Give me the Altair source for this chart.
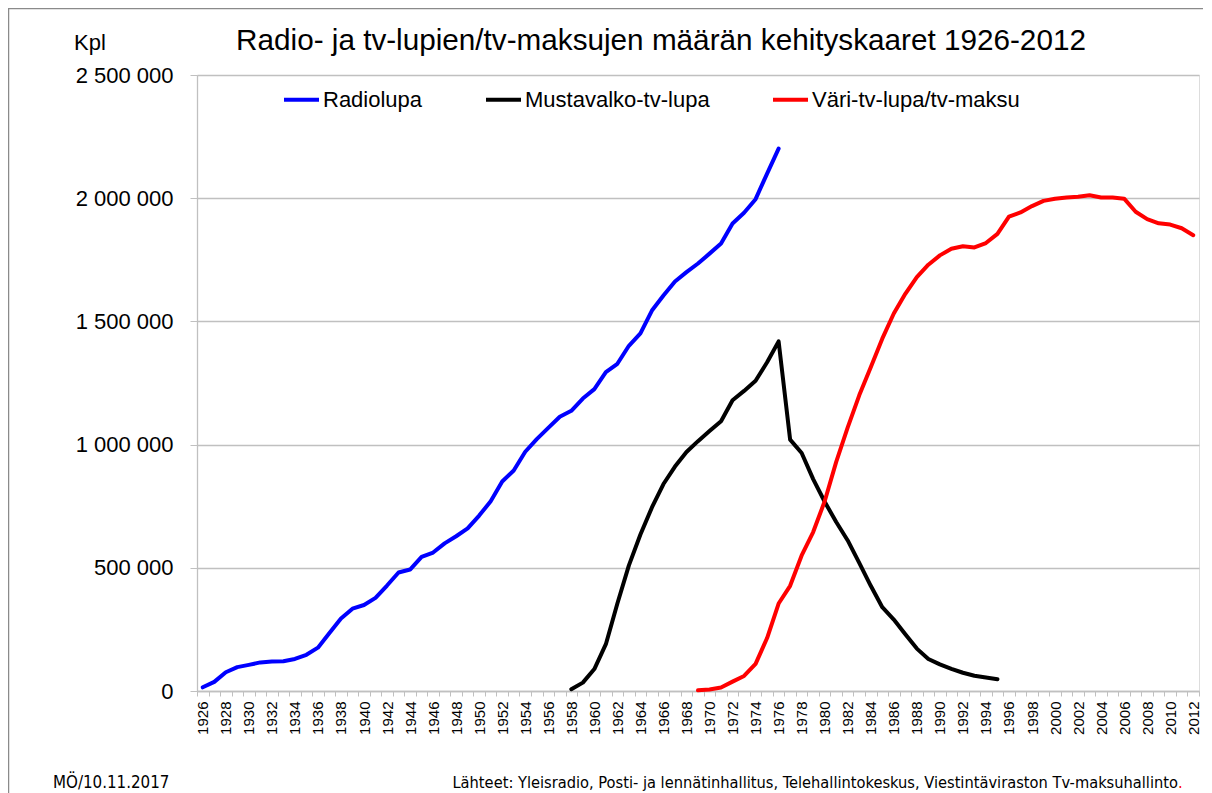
import altair as alt
import pandas as pd

# ---------------- data ----------------
years = list(range(1926, 2013))

radio_years = list(range(1926, 1977))
radio = [15000, 37000, 76000, 97000, 106000, 116000, 120000, 121000, 130000, 147000,
         176000, 235000, 294000, 334000, 349000, 378000, 428000, 481000, 493000, 544000,
         562000, 599000, 628000, 660000, 712000, 770000, 850000, 895000, 971000, 1022000,
         1068000, 1113000, 1137000, 1187000, 1225000, 1294000, 1328000, 1401000, 1451000, 1544000,
         1605000, 1662000, 1700000, 1735000, 1775000, 1816000, 1897000, 1941000, 1996000, 2100000,
         2201000]

bw_years = list(range(1958, 1996))
bw = [7000, 34000, 89000, 190000, 355000, 510000, 635000, 745000, 840000, 911000,
      970000, 1014000, 1055000, 1095000, 1180000, 1218000, 1259000, 1334000, 1419000, 1020000,
      966000, 860000, 768000, 686000, 611000, 520000, 427000, 340000, 290000, 230000,
      172000, 130000, 108000, 90000, 74000, 62000, 55000, 48000]

color_years = list(range(1969, 2013))
color_tv = [3000, 6000, 14000, 38000, 61000, 110000, 215000, 355000, 427000, 550000,
            645000, 770000, 930000, 1070000, 1200000, 1314000, 1430000, 1532000, 1612000, 1680000,
            1730000, 1768000, 1795000, 1805000, 1800000, 1818000, 1855000, 1925000, 1942000, 1968000,
            1989000, 1998000, 2003000, 2006000, 2012000, 2003000, 2003000, 1998000, 1945000, 1915000,
            1898000, 1893000, 1878000, 1850000]

series_names = ["Radiolupa", "Mustavalko-tv-lupa", "Väri-tv-lupa/tv-maksu"]
series_colors = ["#0000FF", "#000000", "#FF0000"]
y_ticks = [0, 500000, 1000000, 1500000, 2000000, 2500000]

title_text = "Radio- ja tv-lupien/tv-maksujen määrän kehityskaaret 1926-2012"
unit_text = "Kpl"
date_text = "MÖ/10.11.2017"
source_text = "Lähteet: Yleisradio, Posti- ja lennätinhallitus, Telehallintokeskus, Viestintäviraston Tv-maksuhallinto"
source_end = "."

rows = []
for name, ys, vs in zip(series_names, [radio_years, bw_years, color_years], [radio, bw, color_tv]):
    for yr, v in zip(ys, vs):
        rows.append({"year": yr, "value": v, "series": name})
df = pd.DataFrame(rows)

# ---------------- layout ----------------
W, H = 1002, 616
PL, PT, PR, PB = 189, 67, 4, 102
FONT = "Liberation Sans, Arial, sans-serif"
NARROW = "Liberation Sans Narrow, Arial Narrow, DejaVu Sans Condensed, sans-serif"
GRID = "#C0C0C0"

x_enc = alt.X(
    "year:O",
    bandPosition=0.5,
    scale=alt.Scale(type="band", domain=years, paddingInner=0, paddingOuter=0),
    axis=alt.Axis(
        title=None, labelAngle=-90,
        labelExpr="toNumber(datum.value) % 2 == 0 ? datum.label : ''",
        tickBand="extent", labelFontSize=15, labelFont=FONT, labelColor="black",
        labelPadding=5, tickSize=5, tickColor=GRID, domainColor=GRID, domainWidth=1.3,
        grid=False, labelOverlap=False, labelBound=False,
    ),
)
y_enc = alt.Y(
    "value:Q",
    scale=alt.Scale(domain=[0, 2500000], nice=False),
    axis=alt.Axis(
        title=None, values=y_ticks,
        labelExpr="replace(format(datum.value, ','), regexp(',', 'g'), ' ')",
        labelFontSize=22, labelFont=FONT, labelColor="black", labelPadding=17,
        tickSize=7, tickColor=GRID, domainColor=GRID, domainWidth=1.3,
        grid=True, gridColor=GRID, gridWidth=1.3,
    ),
)

lines = alt.Chart(df).mark_line(strokeWidth=4, strokeCap="round", strokeJoin="round").encode(
    x=x_enc,
    y=y_enc,
    color=alt.Color(
        "series:N",
        sort=series_names,
        scale=alt.Scale(domain=series_names, range=series_colors),
        legend=alt.Legend(
            orient="none", legendX=85, legendY=5, direction="horizontal", title=None,
            symbolType="stroke", symbolStrokeWidth=4, symbolSize=1225,
            labelFontSize=22, labelFont=FONT, labelColor="black",
            columnPadding=55, labelOffset=2, labelLimit=400,
        ),
    ),
    detail="series:N",
)


def text_layer(txt, x, y, size, font, align="left", color="black"):
    return alt.Chart(pd.DataFrame({"t": [txt]})).mark_text(
        align=align, baseline="alphabetic", fontSize=size, font=font, color=color
    ).encode(x=alt.value(x), y=alt.value(y), text="t:N")


title = text_layer(title_text, 464, -25, 29.7, FONT, align="center")
unit = text_layer(unit_text, -123, -25, 22, FONT)
date = text_layer(date_text, -144, 713, 16.8, NARROW)
source = text_layer(source_text, 981, 713, 16.3, NARROW, align="right")
source_dot = text_layer(source_end, 981, 713, 16.3, NARROW, align="left", color="#FF0000")

frame_df = pd.DataFrame({"k": [0]})
frame_left = alt.Chart(frame_df).mark_rule(color="#8A8A8A", strokeWidth=1.5).encode(
    x=alt.value(-188.5), y=alt.value(-67), y2=alt.value(H + PB)
)
frame_top = alt.Chart(frame_df).mark_rule(color="#8A8A8A", strokeWidth=1.5).encode(
    x=alt.value(-188.5), x2=alt.value(W + PR), y=alt.value(-66.5)
)

chart = alt.layer(
    lines, title, unit, date, source, source_dot, frame_left, frame_top
).properties(
    width=W, height=H,
    padding={"left": PL, "top": PT, "right": PR, "bottom": PB},
    autosize=alt.AutoSizeParams(type="none"),
).configure_view(stroke=GRID, strokeWidth=1.3).configure(background="white")

chart.save("out.html", embed_options={"renderer": "svg", "actions": False})
